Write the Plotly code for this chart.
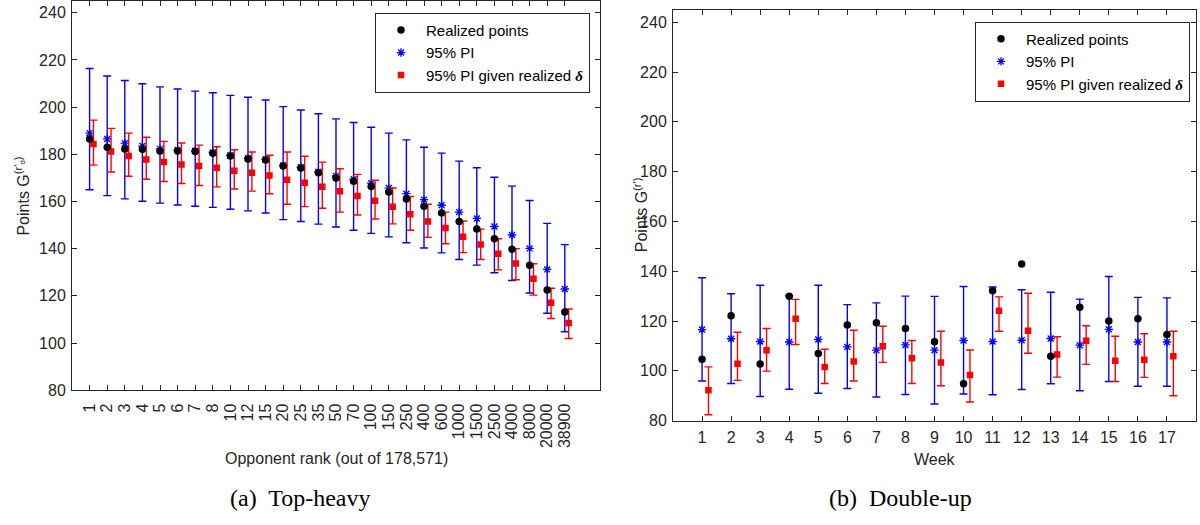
import plotly.graph_objects as go

# ---------------- data: (a) Top-heavy ----------------
rank_labels = ["1", "2", "3", "4", "5", "6", "7", "8", "10", "12", "15", "20", "25", "35",
               "50", "70", "100", "150", "250", "400", "600", "1000", "1500", "2500",
               "4000", "8000", "20000", "38900"]
th_realized = [186.5, 183.0, 182.2, 182.1, 181.4, 181.4, 181.2, 180.4, 179.3, 178.0, 177.6, 175.0,
               174.2, 172.2, 170.0, 168.6, 166.4, 164.0, 161.1, 158.0, 155.1, 151.5, 148.3, 144.2,
               139.8, 133.0, 122.5, 113.2]
th_pi_mid = [189.0, 186.5, 184.7, 183.5, 182.3, 181.8, 181.5, 180.8, 179.6, 178.4, 177.9, 175.3,
             174.5, 172.6, 170.8, 169.4, 167.8, 165.7, 163.3, 160.8, 158.4, 155.5, 152.8, 149.4,
             145.8, 140.1, 131.2, 122.9]
th_pi_hi = [216.4, 213.2, 211.3, 209.9, 208.6, 207.7, 206.8, 206.1, 205.0, 204.2, 203.0, 200.2,
            198.8, 197.2, 195.0, 193.5, 191.5, 189.0, 186.1, 183.0, 180.5, 177.1, 174.3, 170.3,
            166.5, 160.4, 150.7, 141.7]
th_pi_lo = [165.0, 162.5, 161.1, 160.1, 159.3, 158.5, 158.0, 157.5, 156.7, 156.0, 155.1, 152.3,
            151.5, 150.4, 149.2, 147.8, 146.5, 145.0, 142.5, 140.3, 138.2, 135.4, 133.0, 129.8,
            126.5, 121.2, 112.6, 104.8]
th_cond_mid = [184.4, 181.2, 179.3, 177.8, 176.7, 175.7, 175.0, 174.3, 173.0, 172.2, 171.0, 169.2,
               167.9, 166.2, 164.3, 162.3, 160.3, 157.8, 154.6, 151.5, 148.8, 145.0, 141.8, 137.8,
               133.7, 127.2, 117.1, 108.5]
th_cond_hi = [194.5, 191.0, 189.0, 187.2, 185.5, 184.8, 183.9, 183.2, 181.9, 181.0, 179.6, 181.0,
              179.2, 176.7, 173.9, 171.5, 169.0, 165.7, 162.1, 158.8, 155.5, 151.7, 148.3, 144.2,
              140.0, 133.6, 123.2, 114.4]
th_cond_lo = [175.4, 172.5, 170.7, 169.4, 168.5, 167.6, 166.8, 166.2, 165.3, 164.4, 163.3, 158.8,
              157.8, 157.1, 155.5, 154.3, 152.6, 150.5, 147.8, 144.8, 142.1, 138.3, 135.4, 131.0,
              126.8, 120.3, 110.4, 101.9]

# ---------------- data: (b) Double-up ----------------
weeks = list(range(1, 18))
du_realized = [104.7, 122.1, 102.8, 130.0, 107.0, 118.4, 119.3, 117.0, 111.7, 94.8, 132.2, 142.9,
               105.9, 125.5, 120.0, 120.9, 114.6]
du_pi_mid = [116.6, 112.9, 111.8, 111.6, 112.6, 109.6, 108.3, 110.4, 108.3, 112.2, 111.8, 112.3,
             113.0, 110.3, 116.7, 111.6, 111.6]
du_pi_hi = [137.4, 131.0, 134.4, 130.1, 134.4, 126.6, 127.3, 130.0, 129.9, 133.9, 133.7, 132.6,
            131.6, 128.8, 137.9, 129.5, 129.3]
du_pi_lo = [95.9, 94.9, 89.7, 92.6, 91.0, 92.9, 89.5, 90.5, 86.7, 90.7, 90.4, 92.5, 94.8, 92.0,
            95.7, 93.8, 93.8]
du_cond_mid = [92.2, 102.9, 108.3, 120.9, 101.6, 103.8, 109.9, 105.1, 103.4, 98.3, 124.1, 116.1,
               106.6, 112.1, 104.1, 104.5, 105.9]
du_cond_hi = [101.6, 115.5, 117.0, 128.7, 108.7, 116.3, 117.9, 112.2, 115.9, 108.4, 129.7, 131.2,
              113.7, 118.1, 113.9, 114.9, 115.9]
du_cond_lo = [82.4, 96.2, 99.9, 110.6, 94.9, 95.9, 103.4, 94.9, 94.0, 87.5, 115.9, 107.1, 97.5,
              102.6, 95.7, 97.4, 90.0]

y_ticks = [80, 100, 120, 140, 160, 180, 200, 220, 240]

# ---------------- styling ----------------
SANS = "Liberation Sans, Arial, sans-serif"
SERIF = "Liberation Serif, Times New Roman, serif"
AX = "#262626"
BLUE = "#0000FF"
RED = "#FF0000"
OFF = 0.22
DELTA = '95% PI given realized <span style="font-family:Liberation Serif"><b><i>δ</i></b></span>'

fig = go.Figure()


def add_panel(xs, realized, pmid, phi, plo, cmid, chi, clo, xa, ya, leg):
    fig.add_trace(go.Scatter(
        x=xs, y=pmid, mode="markers", name="95% PI", xaxis=xa, yaxis=ya, legend=leg,
        legendrank=2,
        marker=dict(symbol="asterisk-open", size=7, color=BLUE, line=dict(color=BLUE, width=1.3)),
        error_y=dict(type="data", symmetric=False,
                     array=[h - m for h, m in zip(phi, pmid)],
                     arrayminus=[m - l for m, l in zip(pmid, plo)],
                     color=BLUE, thickness=1.4, width=4)))
    fig.add_trace(go.Scatter(
        x=[x + OFF for x in xs], y=cmid, mode="markers", name=DELTA, xaxis=xa, yaxis=ya,
        legend=leg, legendrank=3,
        marker=dict(symbol="square", size=6.5, color=RED),
        error_y=dict(type="data", symmetric=False,
                     array=[h - m for h, m in zip(chi, cmid)],
                     arrayminus=[m - l for m, l in zip(cmid, clo)],
                     color=RED, thickness=1.4, width=4)))
    fig.add_trace(go.Scatter(
        x=xs, y=realized, mode="markers", name="Realized points", xaxis=xa, yaxis=ya,
        legend=leg, legendrank=1,
        marker=dict(symbol="circle", size=7.5, color="black")))


idx = list(range(1, len(rank_labels) + 1))
add_panel(idx, th_realized, th_pi_mid, th_pi_hi, th_pi_lo, th_cond_mid, th_cond_hi, th_cond_lo,
          "x", "y", "legend")
add_panel(weeks, du_realized, du_pi_mid, du_pi_hi, du_pi_lo, du_cond_mid, du_cond_hi, du_cond_lo,
          "x2", "y2", "legend2")

axis_common = dict(showline=True, linecolor=AX, linewidth=1, mirror="allticks", ticks="inside",
                   ticklen=5, tickwidth=1, tickcolor=AX, showgrid=False, zeroline=False,
                   tickfont=dict(family=SANS, size=16, color=AX))

H = 525.0
legend_common = dict(xanchor="right", yanchor="top", bgcolor="white", bordercolor=AX,
                     borderwidth=1, itemwidth=40,
                     font=dict(family=SANS, size=15, color="black"), tracegroupgap=0)
fig.update_layout(
    width=1200, height=525, margin=dict(l=0, r=0, t=0, b=0),
    paper_bgcolor="white", plot_bgcolor="white",
    xaxis=dict(domain=[72 / 1200, 600 / 1200], anchor="y", range=[0, 30],
               tickvals=idx, ticktext=rank_labels, tickangle=-90, ticklabelstandoff=6,
               **axis_common),
    yaxis=dict(domain=[(H - 397) / H, (H - 1) / H], anchor="x", range=[80, 245],
               tickvals=y_ticks, ticklabelstandoff=2, **axis_common),
    xaxis2=dict(domain=[673 / 1200, 1196 / 1200], anchor="y2", range=[0, 18],
                tickvals=weeks, ticklabelstandoff=2, **axis_common),
    yaxis2=dict(domain=[(H - 428) / H, (H - 10) / H], anchor="x2", range=[80, 245],
                tickvals=y_ticks, ticklabelstandoff=2, **axis_common),
    legend=dict(x=590 / 1200, y=(H - 13) / H, **legend_common),
    legend2=dict(x=1190 / 1200, y=(H - 22) / H, **legend_common),
    showlegend=True,
)

ann_font = dict(family=SANS, size=16, color=AX)
fig.add_annotation(text="Opponent rank (out of 178,571)", x=336 / 1200, y=(H - 467) / H,
                   xref="paper", yref="paper", showarrow=False, font=ann_font,
                   xanchor="center", yanchor="middle")
fig.add_annotation(text="Week", x=935 / 1200, y=(H - 468) / H, xref="paper", yref="paper",
                   showarrow=False, font=ann_font, xanchor="center", yanchor="middle")
fig.add_annotation(text="Points G<sup>(r'<sub>d</sub>)</sup>", x=22 / 1200, y=(H - 200) / H,
                   xref="paper", yref="paper", showarrow=False, font=ann_font, textangle=-90,
                   xanchor="center", yanchor="middle")
fig.add_annotation(text="Points G<sup>(r')</sup>", x=641 / 1200, y=(H - 219) / H,
                   xref="paper", yref="paper", showarrow=False, font=ann_font, textangle=-90,
                   xanchor="center", yanchor="middle")
cap_font = dict(family=SERIF, size=24, color="black")
fig.add_annotation(text="(a)  Top-heavy", x=300 / 1200, y=(H - 507) / H, xref="paper",
                   yref="paper", showarrow=False, font=cap_font, xanchor="center",
                   yanchor="middle")
fig.add_annotation(text="(b)  Double-up", x=900 / 1200, y=(H - 507) / H, xref="paper",
                   yref="paper", showarrow=False, font=cap_font, xanchor="center",
                   yanchor="middle")

fig.write_html("out.html")
